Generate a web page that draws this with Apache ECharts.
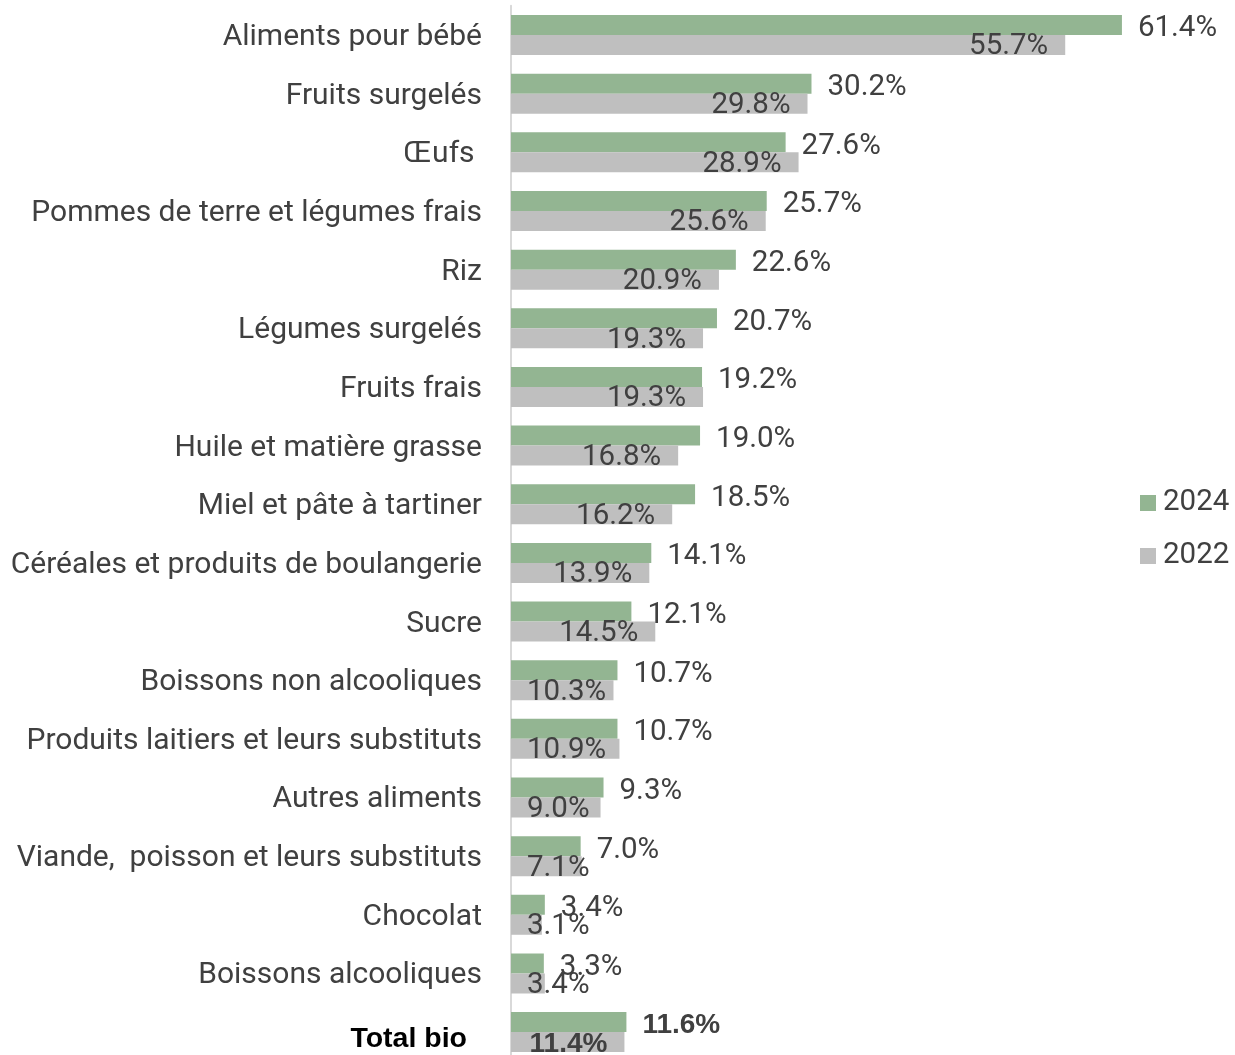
<!DOCTYPE html>
<html><head><meta charset="utf-8">
<script src="https://cdn.jsdelivr.net/npm/echarts@6/dist/echarts.min.js"></script>
<style>html,body{margin:0;padding:0;background:#fff;overflow:hidden}#c{width:1235px;height:1075px}</style>
</head><body><div id="c"></div>
<script>
const categories = ["Aliments pour bébé","Fruits surgelés","Œufs ","Pommes de terre et légumes frais","Riz","Légumes surgelés","Fruits frais","Huile et matière grasse","Miel et pâte à tartiner","Céréales et produits de boulangerie","Sucre","Boissons non alcooliques","Produits laitiers et leurs substituts","Autres aliments","Viande,  poisson et leurs substituts","Chocolat","Boissons alcooliques","Total bio"];
const values2024 = [61.4,30.2,27.6,25.7,22.6,20.7,19.2,19.0,18.5,14.1,12.1,10.7,10.7,9.3,7.0,3.4,3.3,11.6];
const values2022 = [55.7,29.8,28.9,25.6,20.9,19.3,19.3,16.8,16.2,13.9,14.5,10.3,10.9,9.0,7.1,3.1,3.4,11.4];
const seriesNames = ["2024","2022"];

const FONT = 'Roboto';
const TXT = '#404040';
const FS = 29.5;
const CAT_FS = 30;
const lastIdx = categories.length - 1;
const boldLbl = {fontWeight:'bold',fontFamily:'Liberation Sans',fontSize:28};

const d2024 = values2024.map((v,i)=>{
  const o = {value:v};
  if(i===lastIdx){o.label=Object.assign({offset:[0,3]},boldLbl);}
  return o;
});
const d2022 = values2022.map((v,i)=>{
  const o = {value:v};
  const inside = v >= 11.2;
  o.label = inside ? {position:'insideRight',distance:17} : {position:'insideLeft',distance:16};
  if(i===lastIdx){Object.assign(o.label,boldLbl);}
  return o;
});

const chart = echarts.init(document.getElementById('c'));
chart.setOption({
  animation:false,
  textStyle:{fontFamily:FONT},
  grid:{left:511,top:5.7,width:696.5,height:1055.7,containLabel:false},
  xAxis:{type:'value',min:0,max:70,show:false},
  yAxis:{type:'category',data:categories,inverse:true,
    axisLine:{show:true,lineStyle:{color:'#d9d9d9',width:2}},
    axisTick:{show:false},
    axisLabel:{margin:29,fontSize:CAT_FS,color:TXT,fontFamily:FONT,padding:[5,0,0,0],
      formatter:(v)=> v==='Total bio' ? '{b|'+v+'}' : v,
      rich:{b:{fontWeight:'bold',color:'#000',fontSize:28.5,fontFamily:'Liberation Sans',padding:[10,15,0,0]}}}
  },
  legend:{orient:'vertical',left:1140,top:488,padding:0,itemWidth:16,itemHeight:16,itemGap:23,
    icon:'rect',textStyle:{fontSize:FS,lineHeight:30,color:TXT,fontFamily:FONT,padding:[0,0,0,2]},
    data:seriesNames},
  series:[
    {name:seriesNames[0],type:'bar',data:d2024,barWidth:20,barGap:'0%',
     itemStyle:{color:'#93b592'},
     label:{show:true,position:'right',distance:16,offset:[0,4],fontSize:FS,color:TXT,fontFamily:FONT,
       formatter:(p)=>p.value.toFixed(1)+'%'}},
    {name:seriesNames[1],type:'bar',data:d2022,barWidth:20,barGap:'0%',
     itemStyle:{color:'#bfbfbf'},
     label:{show:true,offset:[0,2],fontSize:FS,color:TXT,fontFamily:FONT,
       formatter:(p)=>p.value.toFixed(1)+'%'}}
  ]
});
</script></body></html>
